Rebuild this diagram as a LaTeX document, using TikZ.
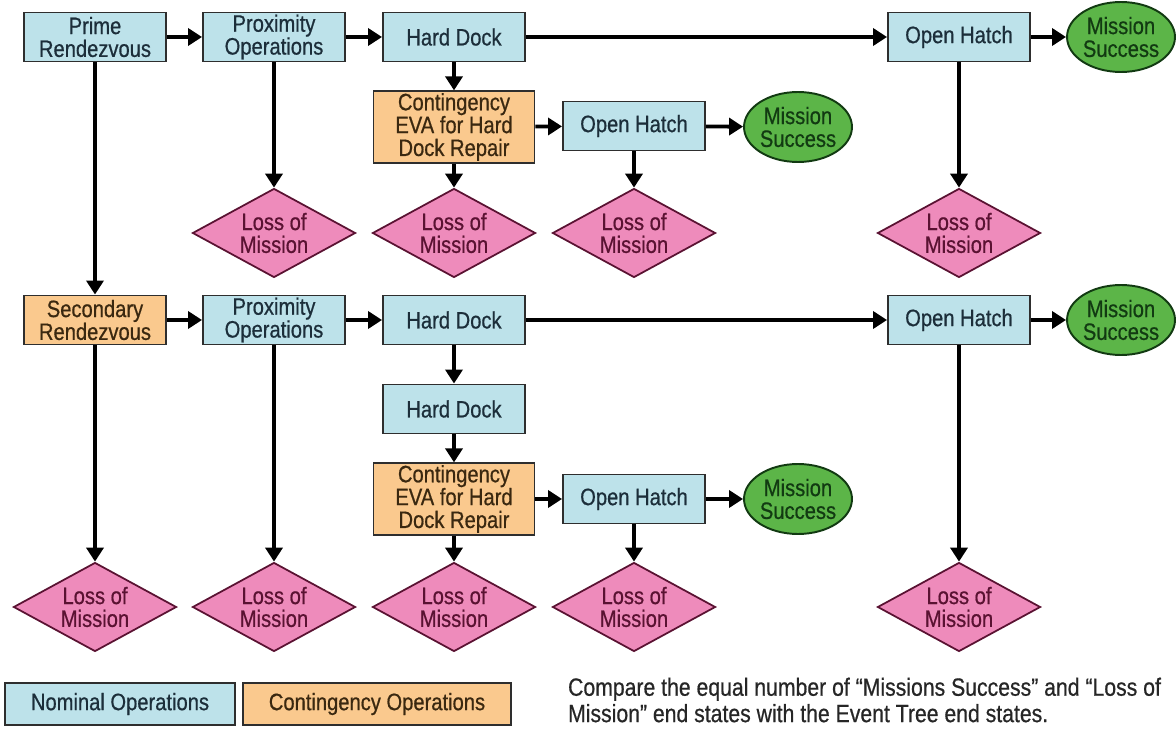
\documentclass[tikz,border=0pt]{standalone}
\usepackage{fontspec}
\setmainfont{Liberation Sans}[FakeStretch=0.85,FakeBold=0.6]
\usetikzlibrary{shapes.geometric,arrows.meta}

\definecolor{nomblue}{HTML}{BDE2EA}
\definecolor{contorange}{HTML}{FAC98E}
\definecolor{losspink}{HTML}{EE8BBB}
\definecolor{succgreen}{HTML}{5CB548}
\definecolor{boxline}{HTML}{2E2E2E}
\definecolor{nomtext}{HTML}{1C2E3A}
\definecolor{conttext}{HTML}{3A2810}
\definecolor{losstext}{HTML}{5A1232}
\definecolor{succtext}{HTML}{123A12}

\begin{document}
\begin{tikzpicture}[x=0.02cm,y=-0.02cm,
  every node/.style={font=\fontsize{13.5}{13}\selectfont,align=center,inner sep=1pt},
  nominal/.style={rectangle,draw=boxline,line width=1.1pt,fill=nomblue,text=nomtext,
    minimum width=2.84cm,minimum height=0.98cm},
  contingency/.style={rectangle,draw=boxline,line width=1.1pt,fill=contorange,text=conttext,
    minimum width=3.22cm,minimum height=1.36cm},
  loss/.style={diamond,draw=losstext,line width=1pt,fill=losspink,text=losstext,
    shape aspect=1.9,inner sep=0pt,minimum width=3.26cm,minimum height=1.78cm},
  success/.style={ellipse,draw=succtext,line width=1.1pt,fill=succgreen,text=succtext,
    inner sep=0pt,minimum width=2.16cm,minimum height=1.4cm}]
   \useasboundingbox (0,0) rectangle (1176,729);

   % prime rendezvous branch
   \node[nominal] (prime) at (95,37) {Prime\\Rendezvous};
   \node[nominal] (prox1) at (274,37) {Proximity\\Operations};
   \node[nominal] (dock1) at (454,37) {Hard Dock};
   \node[nominal] (hatch1) at (959,37) {Open Hatch};
   \node[success] (succ1) at (1121,37) {Mission\\Success};
   \node[contingency] (eva1) at (454,127) {Contingency\\EVA for Hard\\Dock Repair};
   \node[nominal] (hatch2) at (634,126) {Open Hatch};
   \node[success] (succ2) at (798,127) {Mission\\Success};
   \node[loss] (lom1) at (274,233) {Loss of\\Mission};
   \node[loss] (lom2) at (454,233) {Loss of\\Mission};
   \node[loss] (lom3) at (634,233) {Loss of\\Mission};
   \node[loss] (lom4) at (959,233) {Loss of\\Mission};

   % secondary rendezvous branch
   \node[contingency,minimum width=2.84cm,minimum height=0.98cm] (second) at (95,320) {Secondary\\Rendezvous};
   \node[nominal] (prox2) at (274,320) {Proximity\\Operations};
   \node[nominal] (dock2) at (454,320) {Hard Dock};
   \node[nominal] (hatch3) at (959,320) {Open Hatch};
   \node[success] (succ3) at (1121,320) {Mission\\Success};
   \node[nominal] (dock3) at (454,409) {Hard Dock};
   \node[contingency] (eva2) at (454,499) {Contingency\\EVA for Hard\\Dock Repair};
   \node[nominal] (hatch4) at (634,499) {Open Hatch};
   \node[success] (succ4) at (798,499) {Mission\\Success};
   \node[loss] (lom5) at (95,607) {Loss of\\Mission};
   \node[loss] (lom6) at (274,607) {Loss of\\Mission};
   \node[loss] (lom7) at (454,607) {Loss of\\Mission};
   \node[loss] (lom8) at (634,607) {Loss of\\Mission};
   \node[loss] (lom9) at (959,607) {Loss of\\Mission};

   \begin{scope}[every edge/.style={draw=black,line width=2.2pt,-{Triangle[length=0.28cm,width=0.34cm]}}]
    \draw (prime) edge (prox1);
    \draw (prox1) edge (dock1);
    \draw (dock1) edge (hatch1);
    \draw (hatch1) edge (succ1);
    \draw (prime) edge (second);
    \draw (prox1) edge (lom1);
    \draw (dock1) edge (eva1);
    \draw (eva1) edge (hatch2);
    \draw (eva1) edge (lom2);
    \draw (hatch2) edge (succ2);
    \draw (hatch2) edge (lom3);
    \draw (hatch1) edge (lom4);
    \draw (second) edge (prox2);
    \draw (second) edge (lom5);
    \draw (prox2) edge (dock2);
    \draw (prox2) edge (lom6);
    \draw (dock2) edge (hatch3);
    \draw (dock2) edge (dock3);
    \draw (hatch3) edge (succ3);
    \draw (hatch3) edge (lom9);
    \draw (dock3) edge (eva2);
    \draw (eva2) edge (hatch4);
    \draw (eva2) edge (lom7);
    \draw (hatch4) edge (succ4);
    \draw (hatch4) edge (lom8);
   \end{scope}

   % legend
   \node[nominal,minimum width=4.6cm,minimum height=0.84cm] (keynom) at (120,704) {Nominal Operations};
   \node[contingency,minimum width=5.36cm,minimum height=0.84cm] (keycont) at (377,704) {Contingency Operations};
   \node[anchor=west,align=left,text=black!85,font=\fontsize{14.2}{15}\selectfont] (note) at (566,700)
     {Compare the equal number of “Missions Success” and “Loss of\\Mission” end states with the Event Tree end states.};
\end{tikzpicture}
\end{document}
